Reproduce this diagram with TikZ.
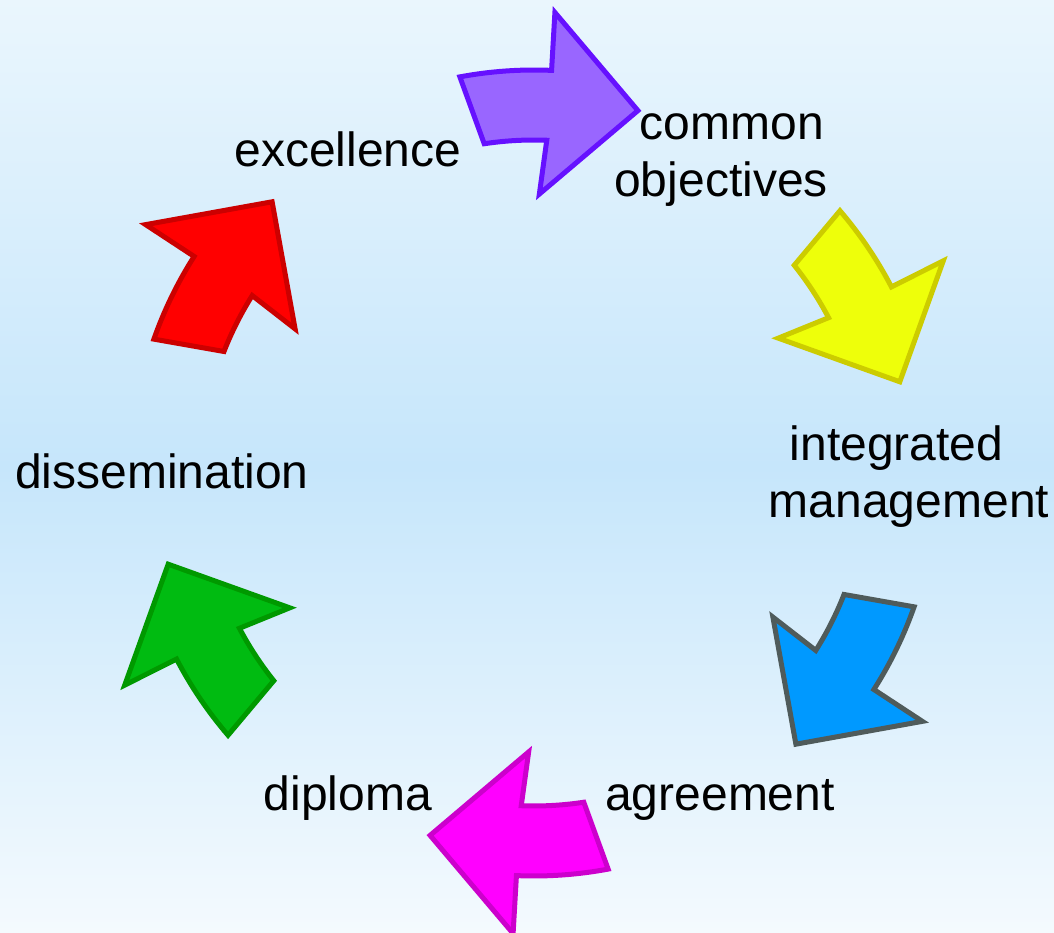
\documentclass[tikz,border=0pt]{standalone}
\usepackage{fontspec}
\setmainfont{Liberation Sans}
\definecolor{bgtop}{HTML}{EAF6FD}
\definecolor{bgmid}{HTML}{C6E6FB}
\definecolor{bgbot}{HTML}{F4FAFE}
\definecolor{purpfill}{HTML}{9966FF}
\definecolor{purpline}{HTML}{6611FF}
\definecolor{yelfill}{HTML}{EEFF0A}
\definecolor{yelline}{HTML}{CCCC00}
\definecolor{bluefill}{HTML}{0099FF}
\definecolor{blueline}{HTML}{4F5B5B}
\definecolor{magfill}{HTML}{FF00FF}
\definecolor{magline}{HTML}{CC00CC}
\definecolor{grnfill}{HTML}{00BB11}
\definecolor{grnline}{HTML}{009900}
\definecolor{redfill}{HTML}{FF0000}
\definecolor{redline}{HTML}{CC0000}
\newcommand{\cyclearrow}[3]{%
  \path[arrowshape,fill=#2,draw=#3]
    ($(c)+(#1+12.6:403)$) -- ($(c)+(#1+10.6:333)$)
    arc[start angle=#1+10.6, end angle=#1-0.2, radius=333]
    -- ($(c)+(#1+0.9:279)$) -- ($(c)+(#1-14:377)$)
    -- ($(c)+(#1-0.6:461)$) -- ($(c)+(#1-0.5:403)$)
    arc[start angle=#1-0.5, end angle=#1+12.6, radius=403] -- cycle;}
\usetikzlibrary{calc}
\begin{document}
\begin{tikzpicture}[x=1pt,y=1pt,
  arrowshape/.style={line width=5pt,line join=miter},
  lbl/.style={font=\fontsize{48}{57}\selectfont,inner sep=0pt,align=center,anchor=base}]
\useasboundingbox (0,0) rectangle (1054,933);
\shade[top color=bgtop,bottom color=bgmid] (0,466) rectangle (1054,933);
\shade[top color=bgmid,bottom color=bgbot] (0,0) rectangle (1054,466.5);
\coordinate (c) at (534,460);
\cyclearrow{88}{purpfill}{purpline}
\cyclearrow{28}{yelfill}{yelline}
\cyclearrow{-32}{bluefill}{blueline}
\cyclearrow{-92}{magfill}{magline}
\cyclearrow{-152}{grnfill}{grnline}
\cyclearrow{148}{redfill}{redline}
\node[lbl] (exc) at (348,766) {excellence};
\node[lbl] (com) at (721,736) {\hspace*{22pt}common\\objectives};
\node[lbl] (int) at (909,415) {integrated\hspace*{25pt}\\management};
\node[lbl] (agr) at (720,122) {agreement};
\node[lbl] (dip) at (348,122) {diploma};
\node[lbl] (dis) at (162,444) {dissemination};
\end{tikzpicture}
\end{document}
